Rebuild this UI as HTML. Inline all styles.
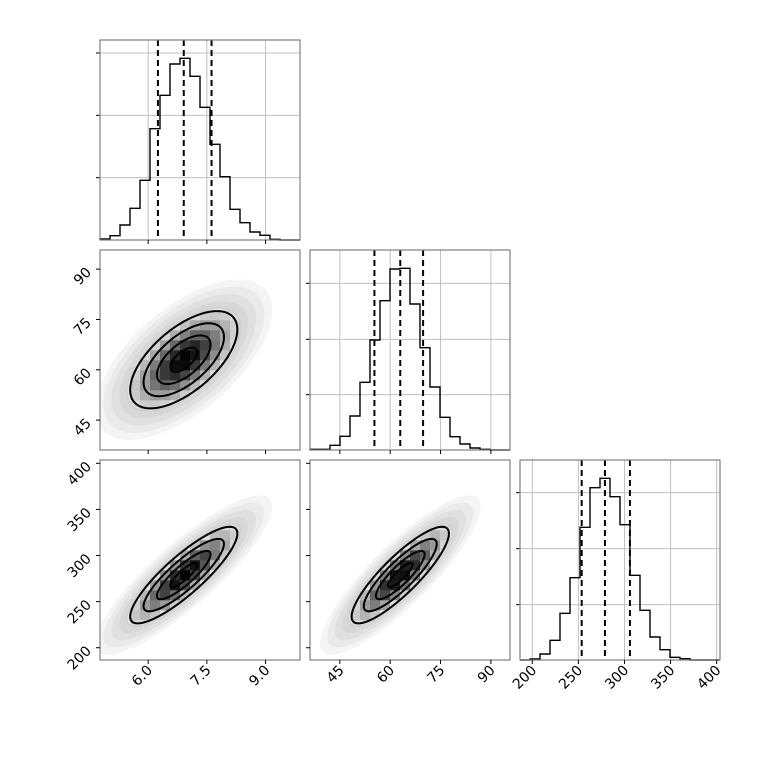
<!DOCTYPE html>
<html><head><meta charset="utf-8"><style>
html,body{margin:0;padding:0;background:#fff}
svg{display:block}
text{font-family:"DejaVu Sans","Liberation Sans",sans-serif;font-size:14px;fill:#000}
</style></head><body>
<svg id="chart" width="760" height="760" viewBox="0 0 760 760" xmlns="http://www.w3.org/2000/svg"></svg>
<script>
// ---- data ----
const paramRanges = [[4.77, 9.88], [36.1, 95.7], [186.7, 403.6]];
const tickValues = [[6.0, 7.5, 9.0], [45, 60, 75, 90], [200, 250, 300, 350, 400]];
const tickLabels = [["6.0", "7.5", "9.0"], ["45", "60", "75", "90"], ["200", "250", "300", "350", "400"]];
const hist1 = [3, 13, 45, 95, 179, 334, 434, 528, 545, 491, 398, 287, 190, 92, 52, 24, 14, 2, 0, 0];
const hist2 = [2, 2, 14, 41, 102, 203, 330, 448, 543, 545, 438, 307, 189, 98, 40, 18, 6, 2, 0, 0];
const hist3 = [0, 3, 18, 59, 140, 247, 398, 517, 545, 490, 406, 254, 149, 69, 31, 8, 4, 0, 0, 0];
const histMax = [600, 600, 600];
const histTicks1 = [187, 374, 561];
const histTicks2 = [166, 332, 500];
const histTicks3 = [166, 334, 502];
const quantiles1 = [6.25, 6.91, 7.62];
const quantiles2 = [55.3, 63.0, 69.8];
const quantiles3 = [253.6, 278.8, 305.9];
const means = [6.91, 63.0, 278.8];
const sds = [0.685, 7.25, 26.2];
const corr10 = 0.62;
const corr20 = 0.86;
const corr21 = 0.86;
const contourLevels = [0.5, 1.0, 1.5, 2.0];

// ---- layout ----
const SVGNS = "http://www.w3.org/2000/svg";
const svg = document.getElementById("chart");
const P = 200, GAP = 10, X0 = 100, Y0 = 40;
const hists = [hist1, hist2, hist3];
const hTicks = [histTicks1, histTicks2, histTicks3];
const quants = [quantiles1, quantiles2, quantiles3];
const corrs = {"1-0": corr10, "2-0": corr20, "2-1": corr21};
function px(c){return X0 + c*(P+GAP);}
function py(r){return Y0 + r*(P+GAP);}
function sx(c, v){const R = paramRanges[c]; return px(c) + (v-R[0])/(R[1]-R[0])*P;}
function sy(r, v){const R = paramRanges[r]; return py(r) + P - (v-R[0])/(R[1]-R[0])*P;}
function mk(tag, attrs, parent){const e = document.createElementNS(SVGNS, tag); for(const k in attrs) e.setAttribute(k, attrs[k]); (parent||svg).appendChild(e); return e;}

function frame(r, c, g){
  const f = mk("rect", {x:px(c), y:py(r), width:P, height:P, fill:"none", stroke:"#808080", "stroke-width":1.2}, g);
  
  
}
function xTicks(r, c, g, labels){
  tickValues[c].forEach((v, i) => {
    const x = sx(c, v), y = py(r)+P;
    const t = mk("line", {x1:x, x2:x, y1:y, y2:y+4, stroke:"#000", "stroke-width":1}, g);
    
    
    if(labels){
      const tx = mk("text", {x:x+5, y:y+11, "text-anchor":"end", transform:`rotate(-45 ${x+5} ${y+11})`}, g);
      tx.textContent = tickLabels[c][i];
      
      
    }
  });
}
function yTicks(r, c, g, labels){
  tickValues[r].forEach((v, i) => {
    const y = sy(r, v), x = px(c);
    const t = mk("line", {x1:x-4, x2:x, y1:y, y2:y, stroke:"#000", "stroke-width":1}, g);
    
    
    if(labels){
      const tx = mk("text", {x:x-8, y:y+4, "text-anchor":"end", transform:`rotate(-45 ${x-8} ${y+4})`}, g);
      tx.textContent = tickLabels[r][i];
      
      
    }
  });
}

// ---- diagonal histograms ----
for(let k=0;k<3;k++){
  const g = mk("g", {});
  
  
  const x0 = px(k), y0 = py(k), R = paramRanges[k], counts = hists[k], n = counts.length;
  const hy = v => y0 + P - v/histMax[k]*P;
  // grid
  tickValues[k].forEach(v => {
    const gl = mk("line", {x1:sx(k,v), x2:sx(k,v), y1:y0, y2:y0+P, stroke:"#c0c0c0", "stroke-width":1}, g);
    
    
  });
  hTicks[k].forEach(v => {
    const gl = mk("line", {x1:x0, x2:x0+P, y1:hy(v), y2:hy(v), stroke:"#c0c0c0", "stroke-width":1}, g);
    
    
    const t = mk("line", {x1:x0-4, x2:x0, y1:hy(v), y2:hy(v), stroke:"#000", "stroke-width":1}, g);
    
    
  });
  // step histogram
  const bw = (R[1]-R[0])/n;
  let d = `M${sx(k,R[0])},${hy(0)}`;
  counts.forEach((c, i) => {
    d += ` L${sx(k,R[0]+i*bw)},${hy(c)} L${sx(k,R[0]+(i+1)*bw)},${hy(c)}`;
  });
  const h = mk("path", {d:d, fill:"none", stroke:"#000", "stroke-width":1.4}, g);
  
  
  quants[k].forEach(q => {
    const ql = mk("line", {x1:sx(k,q), x2:sx(k,q), y1:y0, y2:y0+P, stroke:"#000", "stroke-width":2, "stroke-dasharray":"6,4"}, g);
    
    
  });
  frame(k, k, g);
  xTicks(k, k, g, k===2);
}

// ---- 2D panels ----
let clipId = 0;
function ellipsePath(r, c, rho, rad){
  let d = "";
  for(let t=0;t<=72;t++){
    const a = t/72*2*Math.PI, u = Math.cos(a), w = Math.sin(a);
    const vx = means[c] + sds[c]*rad*u;
    const vy = means[r] + sds[r]*rad*(rho*u + Math.sqrt(1-rho*rho)*w);
    d += (t===0?"M":"L") + sx(c,vx).toFixed(2) + "," + sy(r,vy).toFixed(2);
  }
  return d + "Z";
}
[[1,0],[2,0],[2,1]].forEach(([r,c]) => {
  const g = mk("g", {});
  
  
  const rho = corrs[r+"-"+c];
  const cid = "clip" + (clipId++);
  const cp = mk("clipPath", {id:cid}, g);
  mk("rect", {x:px(c), y:py(r), width:P, height:P}, cp);
  const inner = mk("g", {"clip-path":`url(#${cid})`}, g);
  // scatter cloud approximated by layered translucent ellipses
  [3.3, 3.0, 2.7, 2.4, 2.15].forEach(rad => {
    const e = mk("path", {d:ellipsePath(r,c,rho,rad), fill:"#8a8a8a", "fill-opacity":0.09}, inner);
    
    
  });
  // white fill inside outer contour
  const outerD = ellipsePath(r,c,rho,contourLevels[contourLevels.length-1]);
  const wf = mk("path", {d:outerD, fill:"#fff"}, inner);
  
  
  const cid2 = "clip" + (clipId++);
  const cp2 = mk("clipPath", {id:cid2}, g);
  mk("path", {d:ellipsePath(r,c,rho,contourLevels[contourLevels.length-1]+0.1)}, cp2);
  const cells = mk("g", {"clip-path":`url(#${cid2})`}, inner);
  const RX = paramRanges[c], RY = paramRanges[r], nb = 20;
  const bx = (RX[1]-RX[0])/nb, by = (RY[1]-RY[0])/nb;
  for(let i=0;i<nb;i++) for(let j=0;j<nb;j++){
    const cx = RX[0]+(i+0.5)*bx, cy = RY[0]+(j+0.5)*by;
    const zx = (cx-means[c])/sds[c], zy = (cy-means[r])/sds[r];
    const m2 = (zx*zx - 2*rho*zx*zy + zy*zy)/(1-rho*rho);
    if(m2 > 6) continue;
    const v = Math.exp(-0.5*m2);
    const gray = Math.round(255*(1 - Math.pow(v, 0.9)));
    const cell = mk("rect", {x:sx(c,RX[0]+i*bx), y:sy(r,RY[0]+(j+1)*by), width:P/nb+0.3, height:P/nb+0.3, fill:`rgb(${gray},${gray},${gray})`}, cells);
    
    
  }
  contourLevels.forEach(rad => {
    const ct = mk("path", {d:ellipsePath(r,c,rho,rad), fill:"none", stroke:"#000", "stroke-width":2}, inner);
    
    
  });
  frame(r, c, g);
  xTicks(r, c, g, r===2);
  yTicks(r, c, g, c===0);
});
</script>
</body></html>
